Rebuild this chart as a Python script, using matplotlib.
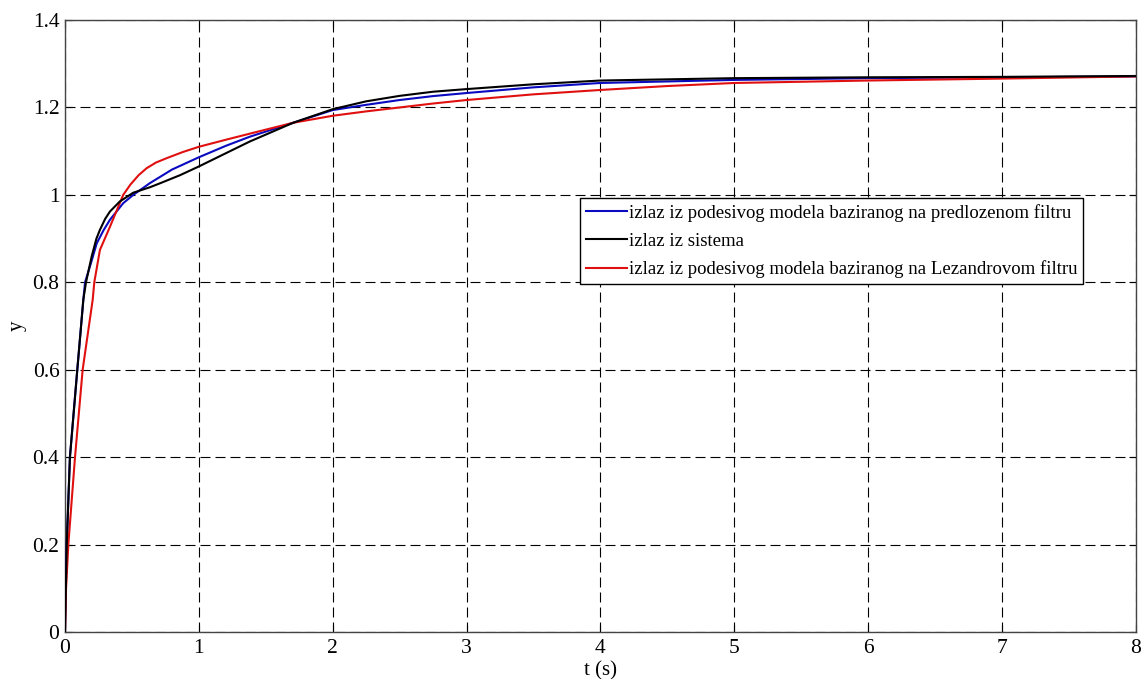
import numpy as np
import matplotlib
matplotlib.use('Agg')
import matplotlib.pyplot as plt

# odziv sistema i dva podesiva modela
t_sis = [0, 0.013, 0.037, 0.092, 0.137, 0.157, 0.2, 0.235, 0.261, 0.3, 0.336, 0.41, 0.51, 0.635,
         0.714, 0.859, 1.0, 1.2, 1.38, 1.705, 2.0, 2.25, 2.5, 2.75, 3.0, 3.5, 4.0, 5.0, 6.0, 7.0, 8.0]
y_sis = [0, 0.2, 0.4, 0.6, 0.76, 0.8, 0.86, 0.90, 0.92, 0.945, 0.962, 0.985, 1.005, 1.0175,
         1.027, 1.045, 1.065, 1.095, 1.122, 1.165, 1.196, 1.214, 1.2265, 1.236, 1.242, 1.253, 1.2616,
         1.267, 1.269, 1.27, 1.272]

t_pred = [0, 0.013, 0.037, 0.092, 0.137, 0.15, 0.2, 0.237, 0.288, 0.336, 0.435, 0.51, 0.635, 0.8,
          1.0, 1.2, 1.38, 1.705, 2.0, 2.25, 2.5, 2.75, 3.0, 3.5, 4.0, 5.0, 6.0, 7.0, 8.0]
y_pred = [0, 0.2, 0.4, 0.6, 0.76, 0.8, 0.85, 0.889, 0.919, 0.943, 0.981, 1.0, 1.027, 1.058,
          1.086, 1.112, 1.133, 1.165, 1.194, 1.206, 1.217, 1.226, 1.233, 1.246, 1.256, 1.263,
          1.267, 1.269, 1.271]

t_lez = [0, 0.008, 0.025, 0.075, 0.132, 0.207, 0.219, 0.261, 0.336, 0.435, 0.49, 0.55, 0.61, 0.68,
         0.76, 0.88, 1.0, 1.2, 1.38, 1.705, 2.0, 2.25, 2.5, 2.75, 3.0, 3.5, 4.0, 4.5, 5.0, 6.0, 7.0, 8.0]
y_lez = [0, 0.1, 0.2, 0.4, 0.6, 0.76, 0.8, 0.874, 0.927, 1.0, 1.024, 1.045, 1.061, 1.074,
         1.084, 1.098, 1.11, 1.126, 1.14, 1.165, 1.181, 1.191, 1.2, 1.209, 1.217, 1.23, 1.240,
         1.249, 1.256, 1.2616, 1.266, 1.271]

xticks = [0, 1, 2, 3, 4, 5, 6, 7, 8]
yticks = [0, 0.2, 0.4, 0.6, 0.8, 1.0, 1.2, 1.4]
ytick_labels = ['0', '0.2', '0.4', '0.6', '0.8', '1', '1.2', '1.4']

plt.rcParams['font.family'] = ['Liberation Serif', 'DejaVu Serif']

fig = plt.figure(figsize=(11.44, 6.79), dpi=100)
ax = fig.add_axes([0.0568, 0.0692, 0.936, 0.9013])

ax.plot(t_pred, y_pred, color='#0a0ac0', lw=1.5, label='izlaz iz podesivog modela baziranog na predlozenom filtru', zorder=3)
ax.plot(t_sis, y_sis, color='black', lw=1.5, label='izlaz iz sistema', zorder=4)
ax.plot(t_lez, y_lez, color='#e01010', lw=1.5, label='izlaz iz podesivog modela baziranog na Lezandrovom filtru', zorder=3)

ax.set_xlim(0, 8)
ax.set_ylim(0, 1.4)
ax.set_xticks(xticks)
ax.set_xticklabels([str(v) for v in xticks])
ax.set_yticks(yticks)
ax.set_yticklabels(ytick_labels)
ax.tick_params(direction='in', length=5, labelsize=15.5, top=True, right=True)
ax.tick_params(axis='x', pad=5)
ax.tick_params(axis='y', pad=4)
ax.grid(True, color='black', linestyle=(0, (9, 4.5)), linewidth=0.8)
for s in ax.spines.values():
    s.set_color('#444444')
    s.set_linewidth(1.0)

ax.set_xlabel('t (s)', fontsize=15, labelpad=2)
ax.set_ylabel('y', fontsize=15, labelpad=4)

leg = ax.legend(loc='upper right', bbox_to_anchor=(0.951, 0.709), borderaxespad=0,
                fontsize=13.5, handlelength=2.2, handletextpad=0.1, labelspacing=0.58,
                borderpad=0.3, fancybox=False, framealpha=1, edgecolor='black')
leg.get_frame().set_linewidth(1.0)

plt.savefig('out.png', dpi=100)
